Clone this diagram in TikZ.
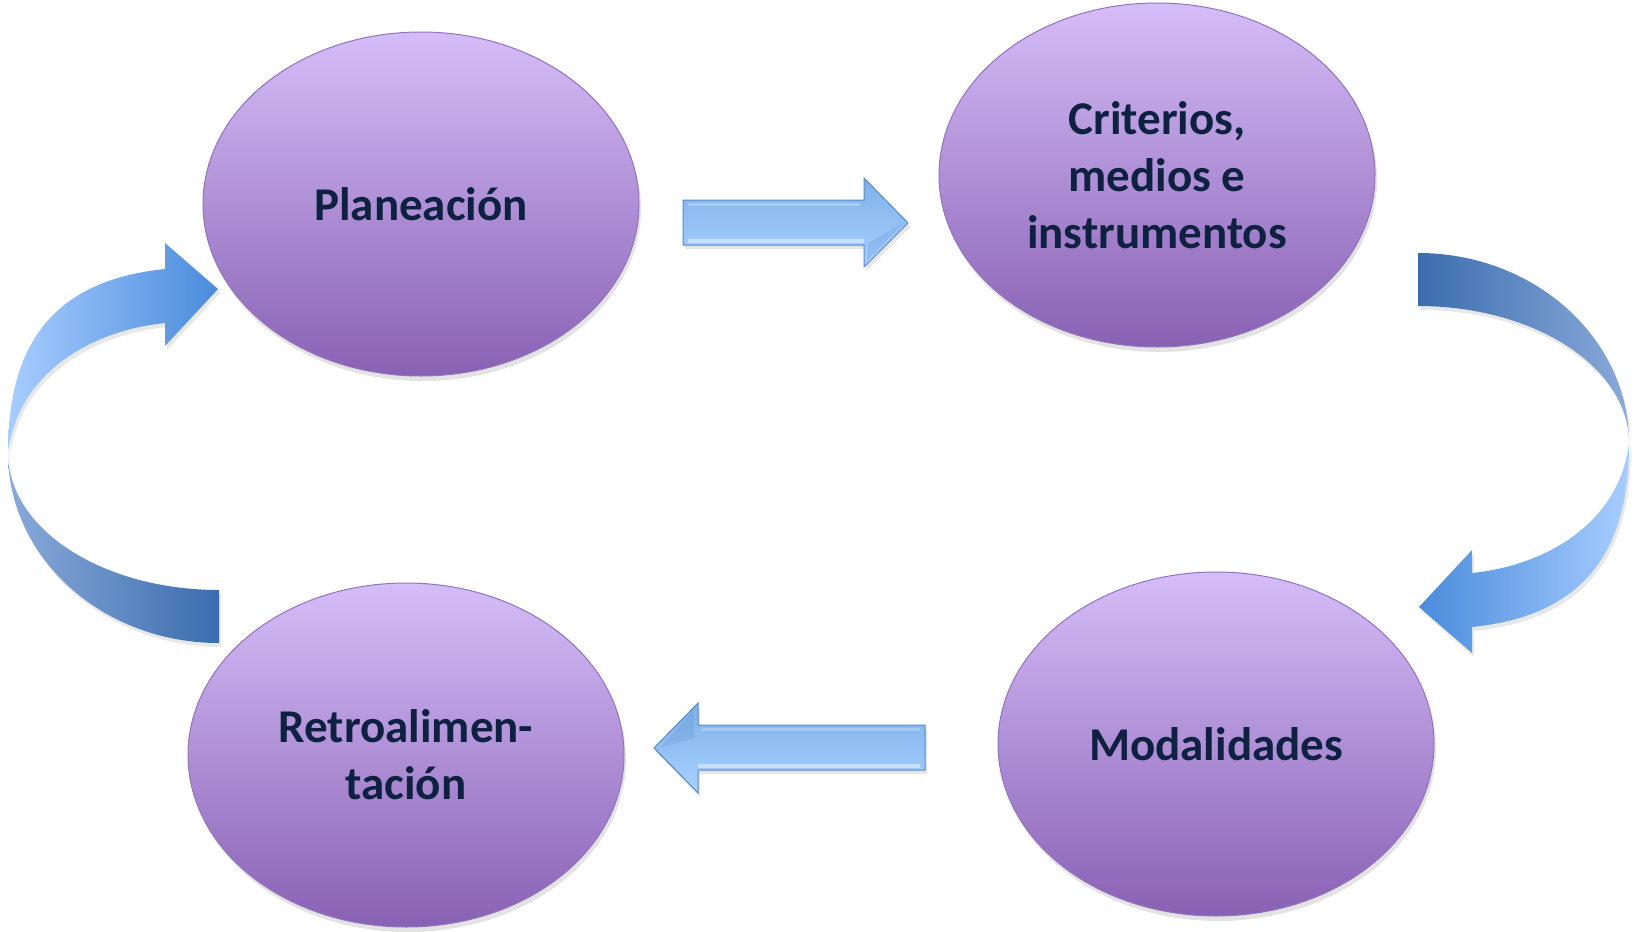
\documentclass[tikz,border=0pt]{standalone}
\usepackage{fontspec}
\setmainfont{Carlito}
\usetikzlibrary{shapes.geometric,shadows}
\definecolor{elltop}{HTML}{D5BDF8}
\definecolor{ellbot}{HTML}{8961B4}
\definecolor{ellline}{HTML}{9074BE}
\definecolor{txt}{HTML}{0E2140}
\definecolor{stop}{HTML}{7EB0EA}
\definecolor{sbot}{HTML}{A8D1FF}
\definecolor{sline}{HTML}{5A8AC4}
\definecolor{backdark}{HTML}{3B6DAE}
\definecolor{backlight}{HTML}{8AAADA}
\definecolor{frontdark}{HTML}{4A8BDB}
\definecolor{frontlight}{HTML}{A7CDFF}
\begin{document}
\begin{tikzpicture}[x=0.5pt,y=-0.5pt,
  bubble/.style={ellipse, minimum width=218pt, minimum height=172pt, inner sep=0pt,
    top color=elltop, bottom color=ellbot, draw=ellline, line width=0.5pt,
    font=\bfseries\fontsize{23.5}{28.5}\selectfont, text=txt, align=center,
    drop shadow={opacity=0.22, shadow xshift=1pt, shadow yshift=-2.5pt}},
  blockarrow/.style={top color=stop, bottom color=sbot, draw=sline, line width=0.5pt,
    drop shadow={opacity=0.2, shadow xshift=1pt, shadow yshift=-2pt}},
  curvepart/.style={drop shadow={opacity=0.18, shadow xshift=1pt, shadow yshift=-2pt}},
]
\useasboundingbox (0,0) rectangle (1634,932);

% ellipses
\node[bubble] (plan)  at (421,204)  {Planeación};
\node[bubble] (crit)  at (1157,175) {Criterios,\\medios e\\instrumentos};
\node[bubble] (retro) at (406,755)  {Retroalimen-\\tación};
\node[bubble] (moda)  at (1216,744) {Modalidades};

% straight arrow: Planeacion -> Criterios
\path[blockarrow] (683,200) -- (864,200) -- (864,178) -- (908,223) -- (864,267)
  -- (864,245) -- (683,245) -- cycle;
\fill[white,opacity=0.45] (688,238.5) -- (864,238.5) -- (864,243) -- (688,243) -- cycle;
\fill[white,opacity=0.25] (688,203) -- (860,203) -- (860,206) -- (688,206) -- cycle;
\fill[sline,opacity=0.22] (868,243) -- (903,223) -- (867,261) -- cycle;

% straight arrow: Modalidades -> Retroalimentacion
\path[blockarrow] (925,725) -- (698,725) -- (698,703) -- (654,748) -- (698,793)
  -- (698,770) -- (925,770) -- cycle;
\fill[white,opacity=0.45] (920,763.5) -- (698,763.5) -- (698,768) -- (920,768) -- cycle;
\fill[white,opacity=0.25] (920,728) -- (702,728) -- (702,731) -- (920,731) -- cycle;
\fill[sline,opacity=0.22] (660,748) -- (694,710) -- (694,738) -- cycle;

% curved arrow: Criterios -> Modalidades (right side)
\path[curvepart, left color=backdark, right color=backlight]
  (1418,253) .. controls (1534.5,253) and (1629,338) .. (1629,443)
  .. controls (1629,367) and (1534.5,306) .. (1418,306) -- cycle;
\path[curvepart, left color=frontdark, right color=frontlight]
  (1629,443) .. controls (1629,545) and (1590,615) .. (1472,627)
  -- (1472,653) -- (1419,607) -- (1472,550) -- (1472,573)
  .. controls (1550,565) and (1620,520) .. (1629,443) -- cycle;

% curved arrow: Retroalimentacion -> Planeacion (left side)
\path[curvepart, left color=backlight, right color=backdark]
  (219,643) .. controls (102.5,643) and (8,558) .. (8,453)
  .. controls (8,529) and (102.5,590) .. (219,590) -- cycle;
\path[curvepart, left color=frontlight, right color=frontdark]
  (8,453) .. controls (8,351) and (47,281) .. (165,269)
  -- (165,243) -- (218,289) -- (165,346) -- (165,323)
  .. controls (87,331) and (17,376) .. (8,453) -- cycle;
\end{tikzpicture}
\end{document}
